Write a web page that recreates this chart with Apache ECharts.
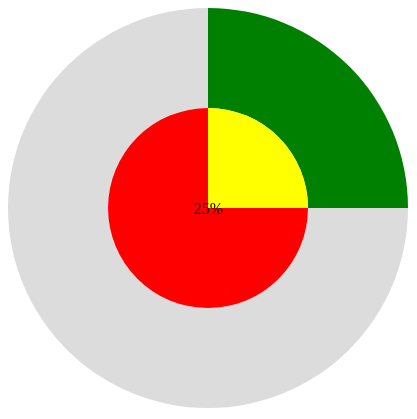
<!DOCTYPE html>
<html><head><meta charset="utf-8">
<script src="https://cdn.jsdelivr.net/npm/echarts@6/dist/echarts.min.js"></script>
<style>html,body{margin:0;padding:0;background:#fff}#c{width:417px;height:419px}</style>
</head><body><div id="c"></div>
<script>
const outerNames = ['done', 'rest'];
const outerValues = [25, 75];
const innerNames = ['done', 'rest'];
const innerValues = [25, 75];
const centerLabel = '25%';

const chart = echarts.init(document.getElementById('c'), null, {renderer: 'canvas'});
chart.setOption({
  animation: false,
  series: [
    {
      type: 'pie', center: [208, 208], radius: [100, 200], startAngle: 90, clockwise: true,
      label: {show: false}, labelLine: {show: false}, silent: true,
      itemStyle: {borderWidth: 0},
      data: outerNames.map((n, i) => ({name: n, value: outerValues[i], itemStyle: {color: ['#008000', '#dcdcdc'][i]}}))
    },
    {
      type: 'pie', center: [208, 208], radius: [0, 100], startAngle: 90, clockwise: true,
      label: {show: false}, labelLine: {show: false}, silent: true,
      itemStyle: {borderWidth: 0},
      data: innerNames.map((n, i) => ({name: n, value: innerValues[i], itemStyle: {color: ['#ffff00', '#ff0000'][i]}}))
    }
  ],
  graphic: {
    elements: [{
      type: 'text', left: 'center', top: 'middle', x: 0, y: 0, z: 100, zlevel: 1,
      position: [208, 208],
      style: {text: centerLabel, fill: '#000', font: '16px "Liberation Serif", serif', textAlign: 'center', textVerticalAlign: 'middle'}
    }]
  }
});
</script></body></html>
